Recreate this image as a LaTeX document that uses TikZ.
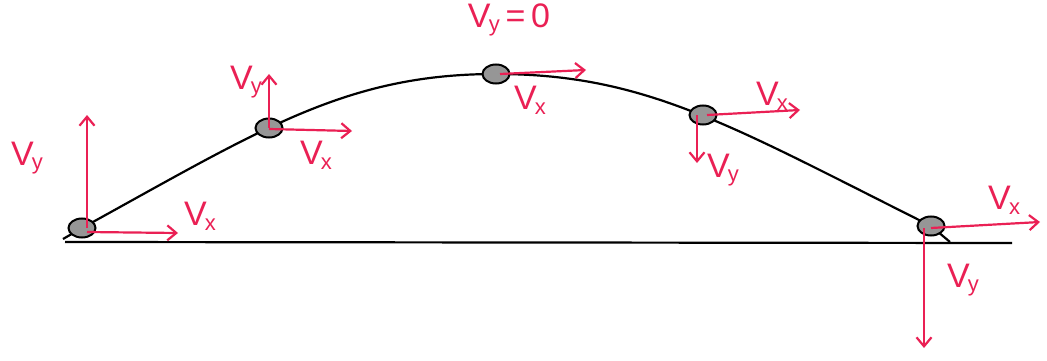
\documentclass[tikz,border=0pt]{standalone}
\usepackage{fontspec}
\setsansfont{Liberation Sans}
\usetikzlibrary{shapes.geometric,arrows.meta}
\definecolor{vred}{RGB}{234,32,84}
\definecolor{ballgray}{RGB}{150,150,150}
\newcommand{\vlab}[1]{V\kern-0.05em{\fontsize{22}{22}\selectfont\raisebox{-0.4ex}{#1}}}
\tikzset{
  ball/.style={ellipse,draw=black,line width=2pt,fill=ballgray,minimum width=27pt,minimum height=19pt,inner sep=0pt},
  vec/.style={draw=vred,line width=2.2pt,-{Straight Barb[length=9pt,width=15pt,line width=2.2pt]}},
  lab/.style={text=vred,font=\sffamily\fontsize{34}{34}\selectfont,inner sep=0pt},
  path/.style={draw=black,line width=2.2pt}
}
\begin{document}
\begin{tikzpicture}[x=1pt,y=-1pt]
\useasboundingbox (0,0) rectangle (1047,361);
% ground
\coordinate (g0) at (65,242);
\coordinate (g1) at (1012,243);
\draw[path] (g0) -- (g1);
% trajectory points
\coordinate (s) at (63,239);
\coordinate (c1) at (82,228);
\coordinate (k1) at (262,129);
\coordinate (k2) at (346,74);
\coordinate (c3) at (496,74);
\coordinate (k3) at (646,74);
\coordinate (k4) at (731,126);
\coordinate (c5) at (931,226);
\coordinate (e) at (950,242);
\coordinate (c2) at (269,128);
\coordinate (c4) at (703,115);
\draw[path] (s) -- (c1) .. controls (k1) and (k2) .. (c3) .. controls (k3) and (k4) .. (c5) -- (e);
% balls
\node[ball] (b1) at (c1) {};
\node[ball] (b2) at (c2) {};
\node[ball] (b3) at (c3) {};
\node[ball] (b4) at (c4) {};
\node[ball] (b5) at (c5) {};
% arrow end points
\coordinate (u1) at (87,115);
\coordinate (r1) at (178,233);
\coordinate (u2) at (269,74);
\coordinate (r2) at (352,131);
\coordinate (r3) at (586,70);
\coordinate (r4) at (800,110);
\coordinate (d4) at (697,163);
\coordinate (r5) at (1040,222);
\coordinate (d5) at (924,348);
% arrows
\draw[vec] ([xshift=5pt]b1.center) -- (u1);
\draw[vec] ([xshift=5pt,yshift=-4pt]b1.center) -- (r1);
\draw[vec] (b2.center) -- (u2);
\draw[vec] ([yshift=-1pt]b2.center) -- (r2);
\draw[vec] ([xshift=4pt]b3.center) -- (r3);
\draw[vec] ([xshift=4pt]b4.center) -- (r4);
\draw[vec] ([xshift=-6pt]b4.center) -- (d4);
\draw[vec] ([yshift=-2pt]b5.center) -- (r5);
\draw[vec] ([xshift=-7pt,yshift=-2pt]b5.center) -- (d5);
% labels
\node[lab] (l1) at (27,158) {\vlab{y}};
\node[lab] (l2) at (200,216) {\vlab{x}};
\node[lab] (l3) at (246,82) {\vlab{y}};
\node[lab] (l4) at (316,155) {\vlab{x}};
\node[lab] (l5) at (509,20) {\vlab{y}\,=\,0};
\node[lab] (l6) at (530,100) {\vlab{x}};
\node[lab] (l7) at (772,96) {\vlab{x}};
\node[lab] (l8) at (723,170) {\vlab{y}};
\node[lab] (l9) at (1004,200) {\vlab{x}};
\node[lab] (l10) at (963,280) {\vlab{y}};
\end{tikzpicture}
\end{document}
